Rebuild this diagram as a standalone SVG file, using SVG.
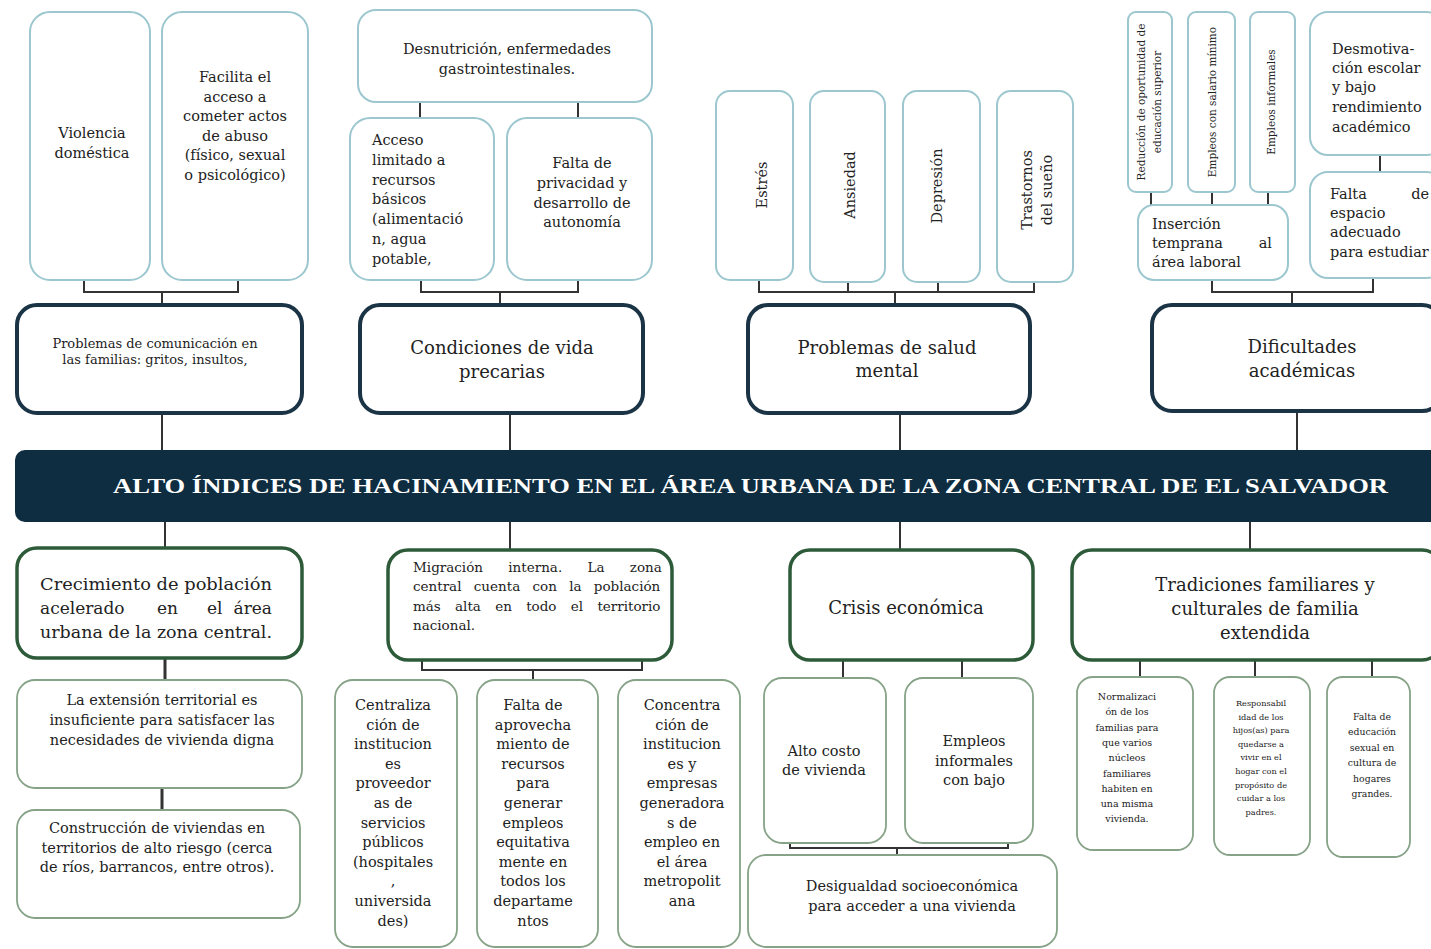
<svg xmlns="http://www.w3.org/2000/svg" width="1431" height="949" viewBox="0 0 1431 949" font-family="'DejaVu Serif', serif">
<style>
.lt{fill:#fff;stroke:#9cc7cf;stroke-width:2}
.mt{fill:#fff;stroke:#1b3445;stroke-width:4}
.mb{fill:#fff;stroke:#2d5b39;stroke-width:3.5}
.lb{fill:#fff;stroke:#86a287;stroke-width:1.8}
.c{fill:none;stroke:#333;stroke-width:2}
text{font-family:'DejaVu Serif',serif;fill:#222}
.s14{font-size:14.5px}
.s13{font-size:13px}
.s135{font-size:13.5px}
.s18{font-size:18px}
.s17{font-size:17px}
.s10{font-size:10.5px}
.m{text-anchor:middle}
.e{text-anchor:end}
</style>
<rect width="1431" height="949" fill="#fff"/>

<g id="connectors">
<path class="c" d="M84 280V292H238V280M162 292V305M162 413V450"/>
<path class="c" d="M420 102V118M578 102V118M421 280V292H578V280M500 292V305M510 413V450"/>
<path class="c" d="M759 280V292H1034V282M848 282V292M938 282V292M895 292V305M900 413V450"/>
<path class="c" d="M1151 192V205M1212 192V205M1268 192V205M1380 155V172M1212 280V292H1373V278M1292 292V305M1297 411V450"/>
<path class="c" d="M165 522V548M510 522V550M900 522V550M1250 522V550"/>
<path class="c" d="M165 658V680M162 788V810" style="stroke-width:3"/>
<path class="c" d="M422 660V670H642V660M533 670V680"/>
<path class="c" d="M843 660V678M962 660V678M790 843V848H1008V843M897 848V855"/>
<path class="c" d="M1140 660V677M1255 660V677M1372 660V677"/>
</g>

<g id="n-violencia"><rect class="lt" x="30" y="12" width="120" height="268" rx="20"/>
<text class="s14 m" x="92" y="138">Violencia</text><text class="s14 m" x="92" y="158">doméstica</text></g>
<g id="n-facilita"><rect class="lt" x="162" y="12" width="146" height="268" rx="20"/>
<text class="s14 m" x="235" y="82">Facilita el</text><text class="s14 m" x="235" y="102">acceso a</text><text class="s14 m" x="235" y="121">cometer actos</text><text class="s14 m" x="235" y="141">de abuso</text><text class="s14 m" x="235" y="160">(físico, sexual</text><text class="s14 m" x="235" y="180">o psicológico)</text></g>
<g id="n-comunicacion"><rect class="mt" x="17" y="305" width="285" height="108" rx="20"/>
<text class="s13 m" x="155" y="348">Problemas de comunicación en</text><text class="s13 m" x="155" y="364">las familias: gritos, insultos,</text></g>

<g id="n-desnutricion"><rect class="lt" x="358" y="10" width="294" height="92" rx="18"/>
<text class="s14 m" x="507" y="54">Desnutrición, enfermedades</text><text class="s14 m" x="507" y="74">gastrointestinales.</text></g>
<g id="n-acceso"><rect class="lt" x="350" y="118" width="144" height="162" rx="20"/>
<text class="s14" x="372" y="145">Acceso</text><text class="s14" x="372" y="165">limitado a</text><text class="s14" x="372" y="185">recursos</text><text class="s14" x="372" y="204">básicos</text><text class="s14" x="372" y="224">(alimentació</text><text class="s14" x="372" y="244">n, agua</text><text class="s14" x="372" y="264">potable,</text></g>
<g id="n-privacidad"><rect class="lt" x="507" y="118" width="145" height="162" rx="20"/>
<text class="s14 m" x="582" y="168">Falta de</text><text class="s14 m" x="582" y="188">privacidad y</text><text class="s14 m" x="582" y="208">desarrollo de</text><text class="s14 m" x="582" y="227">autonomía</text></g>
<g id="n-condiciones"><rect class="mt" x="360" y="305" width="283" height="108" rx="20"/>
<text class="s18 m" x="502" y="354">Condiciones de vida</text><text class="s18 m" x="502" y="378">precarias</text></g>

<g id="n-estres"><rect class="lt" x="716" y="91" width="77" height="189" rx="14"/>
<text class="s14 m" transform="translate(767 185) rotate(-90)">Estrés</text></g>
<g id="n-ansiedad"><rect class="lt" x="810" y="91" width="75" height="191" rx="14"/>
<text class="s14 m" transform="translate(855 185) rotate(-90)">Ansiedad</text></g>
<g id="n-depresion"><rect class="lt" x="903" y="91" width="77" height="191" rx="14"/>
<text class="s14 m" transform="translate(942 186) rotate(-90)">Depresión</text></g>
<g id="n-trastornos"><rect class="lt" x="997" y="91" width="76" height="191" rx="14"/>
<text class="s14 m" transform="translate(1032 190) rotate(-90)">Trastornos</text><text class="s14 m" transform="translate(1052 190) rotate(-90)">del sueño</text></g>
<g id="n-salud"><rect class="mt" x="748" y="305" width="282" height="108" rx="20"/>
<text class="s18 m" x="887" y="354">Problemas de salud</text><text class="s18 m" x="887" y="377">mental</text></g>

<g id="n-reduccion"><rect class="lt" x="1128" y="12" width="44" height="180" rx="8"/>
<text class="s10 m" transform="translate(1145 102) rotate(-90)">Reducción de oportunidad de</text><text class="s10 m" transform="translate(1161 102) rotate(-90)">educación superior</text></g>
<g id="n-salario"><rect class="lt" x="1188" y="12" width="47" height="180" rx="8"/>
<text class="s10 m" transform="translate(1216 102) rotate(-90)">Empleos con salario mínimo</text></g>
<g id="n-informales-top"><rect class="lt" x="1250" y="12" width="45" height="180" rx="8"/>
<text class="s10 m" transform="translate(1275 102) rotate(-90)">Empleos informales</text></g>
<g id="n-desmotivacion"><rect class="lt" x="1310" y="12" width="135" height="143" rx="18"/>
<text class="s14" x="1332" y="54">Desmotiva-</text><text class="s14" x="1332" y="73">ción escolar</text><text class="s14" x="1332" y="92">y bajo</text><text class="s14" x="1332" y="112">rendimiento</text><text class="s14" x="1332" y="132">académico</text></g>
<g id="n-espacio"><rect class="lt" x="1310" y="172" width="135" height="106" rx="18"/>
<text class="s14" x="1330" y="199">Falta</text><text class="s14 e" x="1429" y="199">de</text><text class="s14" x="1330" y="218">espacio</text><text class="s14" x="1330" y="237">adecuado</text><text class="s14" x="1330" y="257">para estudiar</text></g>
<g id="n-insercion"><rect class="lt" x="1138" y="205" width="150" height="75" rx="16"/>
<text class="s14" x="1152" y="229">Inserción</text><text class="s14" x="1152" y="248">temprana</text><text class="s14 e" x="1272" y="248">al</text><text class="s14" x="1152" y="267">área laboral</text></g>
<g id="n-dificultades"><rect class="mt" x="1152" y="305" width="290" height="106" rx="20"/>
<text class="s18 m" x="1302" y="353">Dificultades</text><text class="s18 m" x="1302" y="377">académicas</text></g>

<g id="n-central"><rect x="15" y="450" width="1430" height="72" rx="10" fill="#0f2d40"/>
<text x="113" y="493" font-family="'Liberation Serif', serif" font-size="22" font-weight="bold" textLength="1275" lengthAdjust="spacingAndGlyphs" style="fill:#fff;font-family:'Liberation Serif',serif">ALTO ÍNDICES DE HACINAMIENTO EN EL ÁREA URBANA DE LA ZONA CENTRAL DE EL SALVADOR</text></g>

<g id="n-crecimiento"><rect class="mb" x="17" y="548" width="285" height="110" rx="20"/>
<text class="s17" x="40" y="590" textLength="232" lengthAdjust="spacingAndGlyphs">Crecimiento de población</text>
<text class="s17" x="40" y="614">acelerado</text><text class="s17" x="157" y="614">en</text><text class="s17" x="207" y="614">el</text><text class="s17 e" x="272" y="614">área</text>
<text class="s17" x="40" y="638" textLength="232" lengthAdjust="spacingAndGlyphs">urbana de la zona central.</text></g>
<g id="n-extension"><rect class="lb" x="17" y="680" width="285" height="108" rx="18"/>
<text class="s14 m" x="162" y="705">La extensión territorial es</text><text class="s14 m" x="162" y="725">insuficiente para satisfacer las</text><text class="s14 m" x="162" y="745">necesidades de vivienda digna</text></g>
<g id="n-construccion"><rect class="lb" x="17" y="810" width="283" height="108" rx="18"/>
<text class="s14 m" x="157" y="833">Construcción de viviendas en</text><text class="s14 m" x="157" y="853">territorios de alto riesgo (cerca</text><text class="s14 m" x="157" y="872">de ríos, barrancos, entre otros).</text></g>

<g id="n-migracion"><rect class="mb" x="388" y="550" width="284" height="110" rx="20"/>
<text class="s135" x="413" y="572" word-spacing="21">Migración interna. La zona</text>
<text class="s135" x="413" y="591" word-spacing="8">central cuenta con la población</text>
<text class="s135" x="413" y="611" word-spacing="10">más alta en todo el territorio</text>
<text class="s135" x="413" y="630">nacional.</text></g>
<g id="n-centralizacion"><rect class="lb" x="335" y="680" width="122" height="267" rx="18"/>
<text class="s14 m" x="393" y="710"><tspan x="393">Centraliza</tspan><tspan x="393" dy="19.6">ción de</tspan><tspan x="393" dy="19.6">institucion</tspan><tspan x="393" dy="19.6">es</tspan><tspan x="393" dy="19.6">proveedor</tspan><tspan x="393" dy="19.6">as de</tspan><tspan x="393" dy="19.6">servicios</tspan><tspan x="393" dy="19.6">públicos</tspan><tspan x="393" dy="19.6">(hospitales</tspan><tspan x="393" dy="19.6">,</tspan><tspan x="393" dy="19.6">universida</tspan><tspan x="393" dy="19.6">des)</tspan></text></g>
<g id="n-aprovechamiento"><rect class="lb" x="477" y="680" width="121" height="267" rx="18"/>
<text class="s14 m" x="533" y="710"><tspan x="533">Falta de</tspan><tspan x="533" dy="19.6">aprovecha</tspan><tspan x="533" dy="19.6">miento de</tspan><tspan x="533" dy="19.6">recursos</tspan><tspan x="533" dy="19.6">para</tspan><tspan x="533" dy="19.6">generar</tspan><tspan x="533" dy="19.6">empleos</tspan><tspan x="533" dy="19.6">equitativa</tspan><tspan x="533" dy="19.6">mente en</tspan><tspan x="533" dy="19.6">todos los</tspan><tspan x="533" dy="19.6">departame</tspan><tspan x="533" dy="19.6">ntos</tspan></text></g>
<g id="n-concentracion"><rect class="lb" x="618" y="680" width="122" height="267" rx="18"/>
<text class="s14 m" x="682" y="710"><tspan x="682">Concentra</tspan><tspan x="682" dy="19.6">ción de</tspan><tspan x="682" dy="19.6">institucion</tspan><tspan x="682" dy="19.6">es y</tspan><tspan x="682" dy="19.6">empresas</tspan><tspan x="682" dy="19.6">generadora</tspan><tspan x="682" dy="19.6">s de</tspan><tspan x="682" dy="19.6">empleo en</tspan><tspan x="682" dy="19.6">el área</tspan><tspan x="682" dy="19.6">metropolit</tspan><tspan x="682" dy="19.6">ana</tspan></text></g>

<g id="n-crisis"><rect class="mb" x="790" y="550" width="243" height="110" rx="20"/>
<text class="s18 m" x="906" y="614">Crisis económica</text></g>
<g id="n-costo"><rect class="lb" x="764" y="678" width="122" height="165" rx="18"/>
<text class="s14 m" x="824" y="756">Alto costo</text><text class="s14 m" x="824" y="775">de vivienda</text></g>
<g id="n-empleos-bajo"><rect class="lb" x="905" y="678" width="128" height="165" rx="18"/>
<text class="s14 m" x="974" y="746">Empleos</text><text class="s14 m" x="974" y="766">informales</text><text class="s14 m" x="974" y="785">con bajo</text></g>
<g id="n-desigualdad"><rect class="lb" x="748" y="855" width="309" height="92" rx="18"/>
<text class="s14 m" x="912" y="891">Desigualdad socioeconómica</text><text class="s14 m" x="912" y="911">para acceder a una vivienda</text></g>

<g id="n-tradiciones"><rect class="mb" x="1072" y="550" width="370" height="110" rx="20"/>
<text class="s18 m" x="1265" y="591">Tradiciones familiares y</text><text class="s18 m" x="1265" y="615">culturales de familia</text><text class="s18 m" x="1265" y="639">extendida</text></g>
<g id="n-normalizacion"><rect class="lb" x="1077" y="677" width="116" height="173" rx="16"/>
<text font-size="9.5" class="m" x="1127" y="700"><tspan x="1127">Normalizaci</tspan><tspan x="1127" dy="15.3">ón de los</tspan><tspan x="1127" dy="15.3">familias para</tspan><tspan x="1127" dy="15.3">que varios</tspan><tspan x="1127" dy="15.3">núcleos</tspan><tspan x="1127" dy="15.3">familiares</tspan><tspan x="1127" dy="15.3">habiten en</tspan><tspan x="1127" dy="15.3">una misma</tspan><tspan x="1127" dy="15.3">vivienda.</tspan></text></g>
<g id="n-responsabilidad"><rect class="lb" x="1214" y="677" width="96" height="178" rx="16"/>
<text font-size="8.2" class="m" x="1261" y="706"><tspan x="1261">Responsabil</tspan><tspan x="1261" dy="13.6">idad de los</tspan><tspan x="1261" dy="13.6">hijos(as) para</tspan><tspan x="1261" dy="13.6">quedarse a</tspan><tspan x="1261" dy="13.6">vivir en el</tspan><tspan x="1261" dy="13.6">hogar con el</tspan><tspan x="1261" dy="13.6">propósito de</tspan><tspan x="1261" dy="13.6">cuidar a los</tspan><tspan x="1261" dy="13.6">padres.</tspan></text></g>
<g id="n-educacion"><rect class="lb" x="1327" y="677" width="83" height="180" rx="16"/>
<text font-size="9.3" class="m" x="1372" y="720"><tspan x="1372">Falta de</tspan><tspan x="1372" dy="15.4">educación</tspan><tspan x="1372" dy="15.4">sexual en</tspan><tspan x="1372" dy="15.4">cultura de</tspan><tspan x="1372" dy="15.4">hogares</tspan><tspan x="1372" dy="15.4">grandes.</tspan></text></g>
</svg>
